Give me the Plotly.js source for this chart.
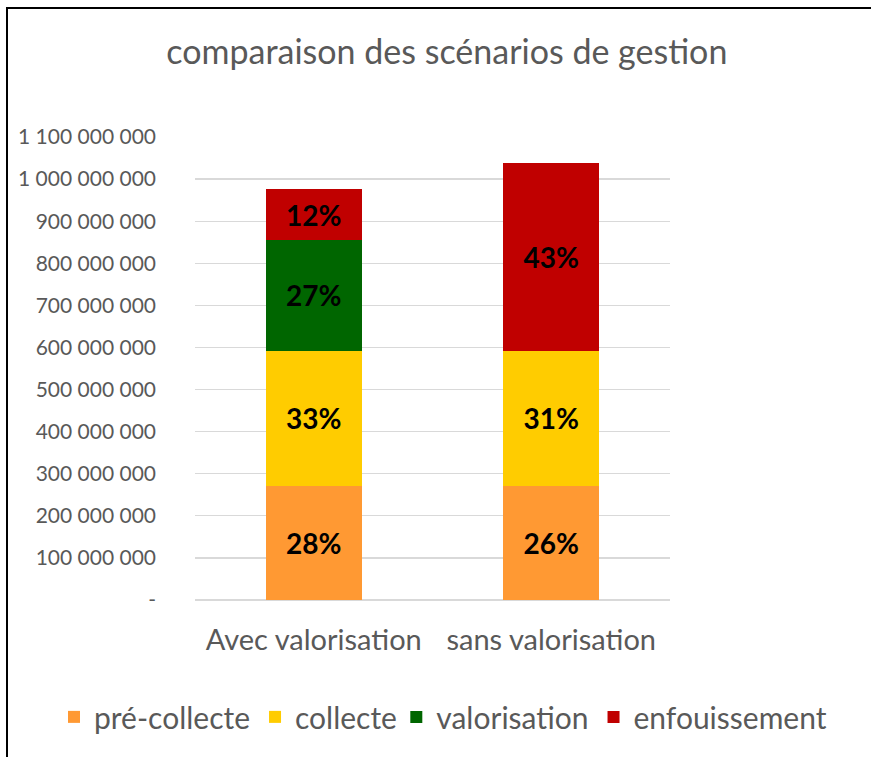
<!DOCTYPE html>
<html>
<head>
<meta charset="utf-8">
<script src="https://cdn.plot.ly/plotly-3.0.1.min.js"></script>
<style>
html,body{margin:0;padding:0;background:#fff;overflow:hidden;}
#chart{width:871px;height:757px;position:absolute;left:0;top:0;}
#frame{position:absolute;left:6px;top:7px;width:880px;height:760px;border-left:2px solid #000;border-top:2px solid #000;pointer-events:none;}
</style>
</head>
<body>
<div id="chart"></div>
<div id="frame"></div>
<script>
// Data
const categories = ["Avec valorisation", "sans valorisation"];
const seriesNames = ["pré-collecte", "collecte", "valorisation", "enfouissement"];
const preCollecte = [271000000, 271000000];
const collecte = [321000000, 321000000];
const valorisation = [263000000, 0];
const enfouissement = [121000000, 446000000];
const colors = ["#FF9933", "#FFCC00", "#006600", "#C00000"];
const yTickVals = [0, 100000000, 200000000, 300000000, 400000000, 500000000, 600000000, 700000000, 800000000, 900000000, 1000000000, 1100000000];
const yTickText = ["-", "100 000 000", "200 000 000", "300 000 000", "400 000 000", "500 000 000", "600 000 000", "700 000 000", "800 000 000", "900 000 000", "1 000 000 000", "1 100 000 000"];

const series = [preCollecte, collecte, valorisation, enfouissement];
const totals = categories.map((c, i) => series.reduce((s, arr) => s + arr[i], 0));
const legendIds = ["legend", "legend", "legend2", "legend2"];

const FONT = "Lato, 'Open Sans', sans-serif";
const traces = series.map((vals, k) => ({
  type: "bar",
  name: seriesNames[k],
  legend: legendIds[k],
  x: categories,
  y: vals.map(v => v === 0 ? null : v),
  marker: {color: colors[k], line: {width: 0}},
  text: vals.map((v, i) => v === 0 ? "" : Math.round(v / totals[i] * 100) + "%"),
  textposition: "inside",
  insidetextanchor: "middle",
  textangle: 0,
  textfont: {family: FONT, size: 28, color: "#000000", weight: "bold"},
  hoverinfo: "skip"
}));

const legendCommon = {
  orientation: "h", xref: "container", yref: "container",
  xanchor: "left", y: 0.053, yanchor: "middle",
  font: {family: FONT, size: 30, color: "#595959"},
  traceorder: "normal", itemwidth: 30, bgcolor: "rgba(0,0,0,0)"
};

const layout = {
  width: 871, height: 757,
  margin: {l: 195, r: 201, t: 137, b: 157},
  paper_bgcolor: "#ffffff",
  plot_bgcolor: "#ffffff",
  barmode: "stack",
  bargap: 0.595,
  title: {text: "comparaison des scénarios de gestion", x: 0.513, xanchor: "center", y: 0.931, yanchor: "middle",
          font: {family: FONT, size: 34, color: "#595959"}},
  xaxis: {
    type: "category",
    showgrid: false, zeroline: false, showline: false,
    ticks: "", tickfont: {family: FONT, size: 29, color: "#595959"},
    ticklabelstandoff: 20
  },
  yaxis: {
    range: [0, 1100000000],
    tickvals: yTickVals, ticktext: yTickText,
    showgrid: true, gridcolor: "#D9D9D9", gridwidth: 1.3,
    zeroline: true, zerolinecolor: "#D9D9D9", zerolinewidth: 1.3,
    showline: false, ticks: "",
    tickfont: {family: FONT, size: 21, color: "#595959"},
    ticklabelstandoff: 38
  },
  showlegend: true,
  legend: Object.assign({}, legendCommon, {x: 0.062}),
  legend2: Object.assign({}, legendCommon, {x: 0.455})
};

Plotly.newPlot("chart", traces, layout, {displayModeBar: false, staticPlot: true});
</script>
</body>
</html>
